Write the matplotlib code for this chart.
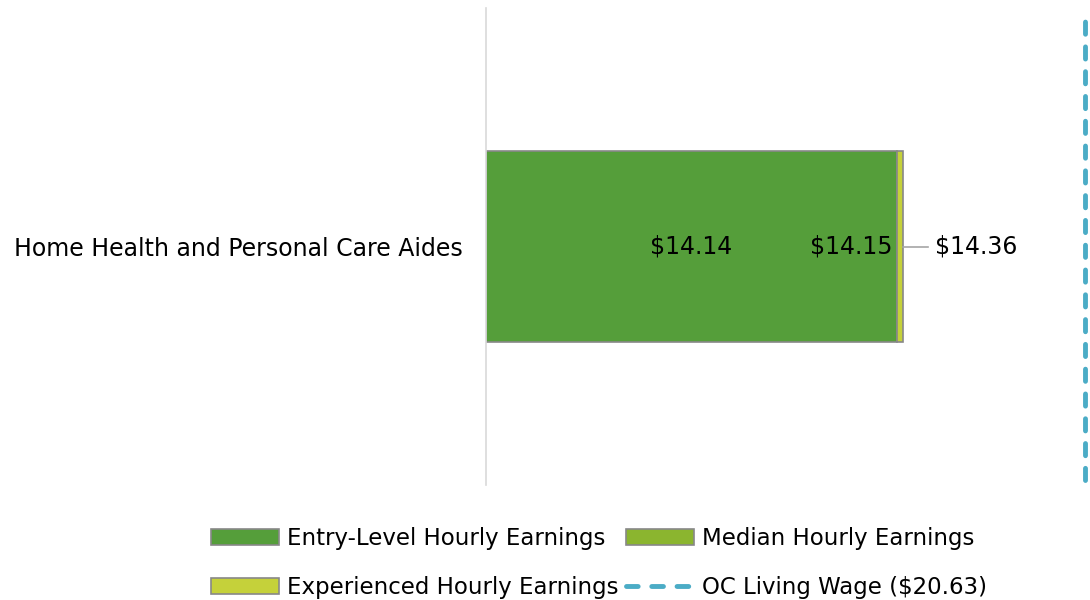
import matplotlib.pyplot as plt
from matplotlib.lines import Line2D
from matplotlib.patches import Patch

plt.rcParams['font.family'] = ['DejaVu Sans']

# data
occupations = ['Home Health and Personal Care Aides']
entry_level = [14.14]
median = [14.15]
experienced = [14.36]
living_wage = 20.63

labels = ['Entry-Level Hourly Earnings', 'Median Hourly Earnings',
          'Experienced Hourly Earnings', 'OC Living Wage ($20.63)']
colors = ['#559E3A', '#8BB52F', '#C5D13A']
line_color = '#4BACC6'

fig = plt.figure(figsize=(10.9, 6), dpi=100)
fig.patch.set_facecolor('white')
ax = fig.add_axes([486 / 1090, 1 - 485 / 600, 604 / 1090, 477 / 600])

# stacked segments: increments between levels
seg_entry = [e for e in entry_level]
seg_median = [m - e for m, e in zip(median, entry_level)]
seg_exp = [x - m for x, m in zip(experienced, median)]

y = list(range(len(occupations)))
ax.barh(y, seg_entry, height=0.4, color=colors[0], edgecolor='#888888', lw=1.2)
ax.barh(y, seg_median, left=seg_entry, height=0.4, color=colors[1],
        edgecolor='#888888', lw=1.2)
left2 = [a + b for a, b in zip(seg_entry, seg_median)]
ax.barh(y, seg_exp, left=left2, height=0.4, color=colors[2],
        edgecolor='#888888', lw=1.2)

dash_kw = dict(color=line_color, lw=3.5, dash_capstyle='round')
ax.plot([living_wage, living_wage], [-0.49, 0.49], clip_on=False,
        dashes=(2.5, 2.6), **dash_kw)

# value labels
fs = 17
for i in y:
    ax.text(entry_level[i] / 2, i, '$%.2f' % entry_level[i], ha='center',
            va='center', fontsize=fs, color='black')
    ax.text(median[i] - 0.15, i, '$%.2f' % median[i], ha='right',
            va='center', fontsize=fs, color='black')
    ax.plot([experienced[i], experienced[i] + 0.85], [i, i], color='#A6A6A6',
            lw=1.2)
    ax.text(experienced[i] + 1.1, i, '$%.2f' % experienced[i], ha='left',
            va='center', fontsize=fs, color='black')

ax.set_xlim(0, 20.8)
ax.set_ylim(-0.5, 0.5)
ax.set_yticks(y)
ax.set_yticklabels(occupations, fontsize=fs)
ax.tick_params(axis='y', length=0, pad=17)
ax.set_xticks([])
for s in ['top', 'right', 'bottom']:
    ax.spines[s].set_visible(False)
ax.spines['left'].set_color('#D9D9D9')
ax.spines['left'].set_linewidth(1.2)

# legend (column-major order so rows read Entry/Median, Experienced/OC)
handles = [Patch(facecolor=c, edgecolor='#888888', lw=1.2) for c in colors]
handles.append(Line2D([0], [0], dashes=(2.4, 2.8), **dash_kw))
order = [0, 2, 1, 3]
fig.legend([handles[k] for k in order], [labels[k] for k in order],
           ncol=2, loc='center', bbox_to_anchor=(599 / 1090, 1 - 563 / 600),
           frameon=False, fontsize=16.5, handlelength=3.0, handleheight=0.7,
           handletextpad=0.35, columnspacing=0.3, labelspacing=1.1)

fig.savefig('out.png', dpi=100, facecolor='white')
